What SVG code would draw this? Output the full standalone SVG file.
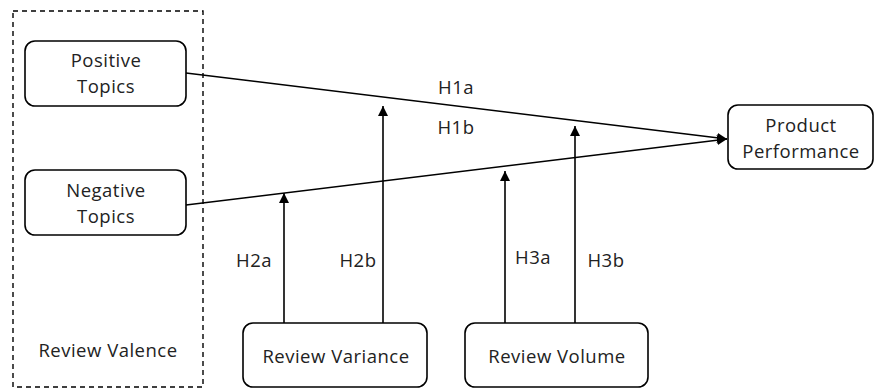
<svg xmlns="http://www.w3.org/2000/svg" width="880" height="388" viewBox="0 0 880 388">
<style>
.box{fill:#fff;stroke:#000;stroke-width:1.6}
.dash{fill:none;stroke:#000;stroke-width:1.4;stroke-dasharray:5,4}
.t{font-family:"Open Sans","Liberation Sans",sans-serif;font-size:18.5px;letter-spacing:0.5px;fill:#222;text-anchor:middle}
.c{stroke:#000;stroke-width:1.6;fill:none}
</style>
<defs>
<marker id="ah" viewBox="0 0 10 10" refX="10" refY="5" markerWidth="10" markerHeight="10" markerUnits="userSpaceOnUse" orient="auto">
<path d="M0,0 L10,5 L0,10 z" fill="#000"/>
</marker>
</defs>
<g id="valence">
<rect class="dash" x="13" y="11" width="190" height="376"/>
<text class="t" x="108" y="357">Review Valence</text>
</g>
<g id="positive">
<rect class="box" x="25" y="41" width="161" height="65" rx="10"/>
<text class="t" x="106" y="67">Positive</text>
<text class="t" x="106" y="93">Topics</text>
</g>
<g id="negative">
<rect class="box" x="25" y="170" width="161" height="65" rx="10"/>
<text class="t" x="106" y="197">Negative</text>
<text class="t" x="106" y="223">Topics</text>
</g>
<g id="performance">
<rect class="box" x="728" y="105" width="145" height="64" rx="10"/>
<text class="t" x="801" y="132">Product</text>
<text class="t" x="801" y="158">Performance</text>
</g>
<g id="variance">
<rect class="box" x="243" y="323" width="184" height="64" rx="10"/>
<text class="t" x="336" y="363">Review Variance</text>
</g>
<g id="volume">
<rect class="box" x="465" y="323" width="183" height="64" rx="10"/>
<text class="t" x="557" y="363">Review Volume</text>
</g>
<g id="connectors">
<line class="c" x1="186" y1="73" x2="727" y2="139" marker-end="url(#ah)"/>
<line class="c" x1="186" y1="205" x2="727" y2="139" marker-end="url(#ah)"/>
<line class="c" x1="284" y1="323" x2="284" y2="193" marker-end="url(#ah)"/>
<line class="c" x1="383" y1="323" x2="383" y2="106" marker-end="url(#ah)"/>
<line class="c" x1="505" y1="323" x2="505" y2="171" marker-end="url(#ah)"/>
<line class="c" x1="575" y1="323" x2="575" y2="126" marker-end="url(#ah)"/>
<text class="t" x="456" y="94">H1a</text>
<text class="t" x="456" y="134">H1b</text>
<text class="t" x="254" y="267">H2a</text>
<text class="t" x="358" y="267">H2b</text>
<text class="t" x="533" y="264">H3a</text>
<text class="t" x="606" y="267">H3b</text>
</g>
</svg>
